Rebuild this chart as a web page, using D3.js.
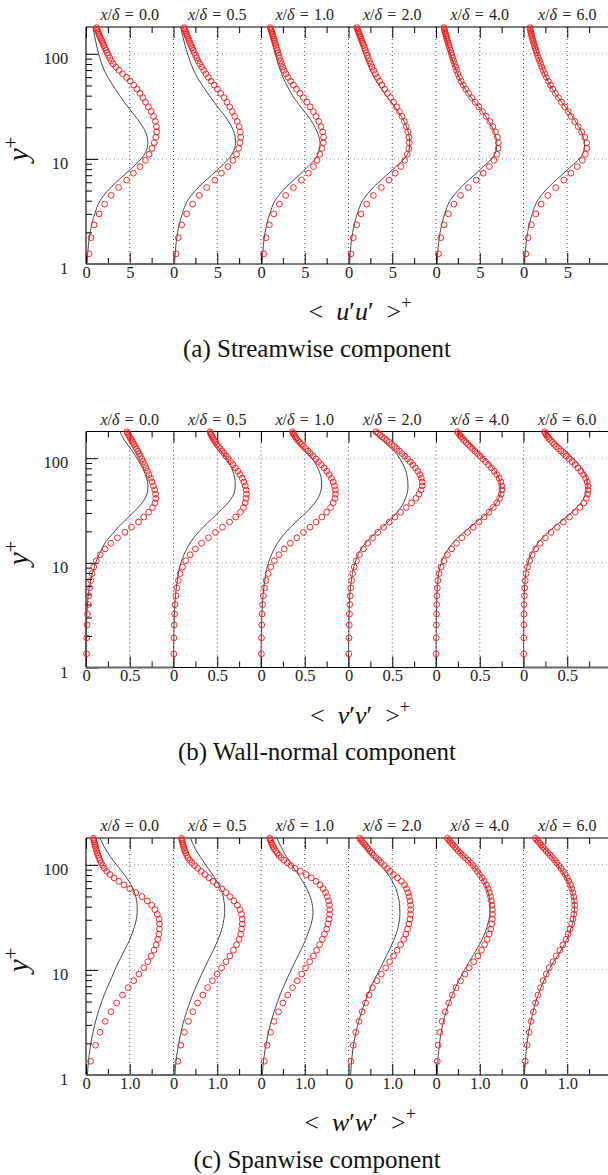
<!DOCTYPE html>
<html><head><meta charset="utf-8">
<script src="https://cdn.jsdelivr.net/npm/d3@7"></script>
<style>body{margin:0;background:#fff}svg{display:block}</style>
</head><body>
<script>
// Streamwise stations x/delta
const stations = ["0.0", "0.5", "1.0", "2.0", "4.0", "6.0"];

// Wall-normal positions (y+) of the LES samples
const yPlusU = [1.25,1.78,2.36,3.00,3.71,4.49,5.34,6.28,7.31,8.45,9.70,11.07,12.58,14.25,16.08,18.09,20.30,22.72,25.36,28.22,31.32,34.66,38.24,42.06,46.12,50.41,54.92,59.64,64.55,69.63,74.86,80.22,85.69,91.25,96.88,102.6,108.3,114.0,119.8,125.5,131.3,137.0,142.8,148.5,154.3,160.0,165.8,171.5,177.3];
const yPlusVW = [1.35,1.92,2.55,3.24,4.0,4.85,5.77,6.78,7.9,9.13,10.48,11.96,13.59,15.39,17.37,19.54,21.92,24.54,27.39,30.48,33.83,37.43,41.3,45.42,49.81,54.44,59.31,64.41,69.71,75.2,80.85,86.64,92.55,98.55,104.6,110.8,117.0,123.2,129.4,135.6,141.8,148.0,154.2,160.4,166.6,172.8,179.0];
// Wall-normal positions (y+) of the reference profiles
const yPlusRef = [1,1.5,2,3,4,5,6,7,8.5,10,12,14,16,19,22,26,30,35,40,46,53,60,70,80,95,110,130,150,180];

// <u'u'>+ : LES samples, one row per station
const uuLes = [
  [0.36,0.57,0.92,1.50,2.12,2.88,3.72,4.64,5.42,6.18,6.80,7.22,7.55,7.80,7.97,8.07,8.05,7.92,7.72,7.45,7.12,6.80,6.50,6.17,5.82,5.45,5.05,4.62,4.18,3.76,3.40,3.10,2.90,2.72,2.55,2.40,2.27,2.15,2.04,1.93,1.83,1.73,1.64,1.55,1.47,1.40,1.33,1.26,1.20],
  [0.30,0.55,0.93,1.50,2.19,2.95,3.79,4.72,5.48,6.22,6.80,7.20,7.45,7.60,7.68,7.64,7.50,7.28,7.00,6.72,6.42,6.10,5.78,5.40,5.02,4.65,4.30,4.00,3.70,3.45,3.22,3.00,2.82,2.66,2.52,2.38,2.25,2.13,2.02,1.92,1.82,1.73,1.64,1.56,1.48,1.41,1.34,1.27,1.20],
  [0.30,0.57,0.95,1.45,2.10,2.82,3.70,4.62,5.42,6.00,6.40,6.72,6.95,7.12,7.15,7.05,6.85,6.60,6.30,5.98,5.62,5.25,4.85,4.45,4.05,3.70,3.38,3.10,2.86,2.66,2.50,2.36,2.24,2.13,2.03,1.94,1.85,1.77,1.69,1.62,1.55,1.48,1.42,1.36,1.30,1.24,1.18,1.12,1.06],
  [0.29,0.55,0.93,1.43,2.08,2.84,3.75,4.62,5.35,5.98,6.42,6.72,6.90,6.95,6.90,6.78,6.60,6.38,6.12,5.82,5.50,5.15,4.80,4.45,4.12,3.82,3.55,3.30,3.08,2.88,2.70,2.54,2.40,2.27,2.15,2.04,1.93,1.83,1.73,1.64,1.55,1.47,1.39,1.31,1.23,1.16,1.09,1.02,0.95],
  [0.29,0.55,0.92,1.42,2.05,2.80,3.70,4.60,5.40,6.10,6.62,6.95,7.10,7.12,7.02,6.80,6.50,6.15,5.75,5.32,4.90,4.48,4.08,3.72,3.40,3.12,2.88,2.67,2.50,2.36,2.24,2.12,2.01,1.91,1.81,1.72,1.63,1.55,1.47,1.40,1.33,1.27,1.21,1.15,1.09,1.04,0.99,0.95,0.91],
  [0.28,0.53,0.90,1.40,2.02,2.78,3.68,4.60,5.42,6.15,6.72,7.08,7.25,7.22,7.00,6.65,6.25,5.85,5.45,5.10,4.72,4.35,4.00,3.65,3.35,3.08,2.84,2.62,2.43,2.26,2.10,1.96,1.83,1.71,1.60,1.50,1.41,1.33,1.25,1.18,1.11,1.05,0.99,0.94,0.89,0.85,0.81,0.77,0.74]
];
// <u'u'>+ : reference profiles
const uuRef = [
  [0.12,0.27,0.47,1.0,1.6,2.5,3.45,4.35,5.45,6.3,6.9,7.06,7.0,6.68,6.2,5.55,4.95,4.35,3.85,3.35,2.88,2.48,2.08,1.8,1.52,1.32,1.12,0.96,0.8],
  [0.12,0.27,0.47,1.0,1.6,2.5,3.45,4.35,5.45,6.3,6.9,7.08,7.05,6.8,6.4,5.8,5.2,4.6,4.1,3.6,3.1,2.7,2.3,2.0,1.7,1.45,1.22,1.03,0.82],
  [0.12,0.27,0.47,1.0,1.6,2.5,3.45,4.35,5.4,6.2,6.65,6.75,6.65,6.3,5.9,5.3,4.7,4.1,3.6,3.2,2.8,2.5,2.2,1.95,1.7,1.5,1.28,1.08,0.85],
  [0.12,0.27,0.47,1.0,1.6,2.5,3.45,4.35,5.45,6.35,6.9,7.0,6.95,6.75,6.45,5.95,5.45,4.85,4.3,3.8,3.3,2.9,2.5,2.2,1.85,1.6,1.35,1.12,0.85],
  [0.12,0.27,0.47,1.0,1.6,2.5,3.45,4.35,5.45,6.35,6.88,6.95,6.85,6.55,6.15,5.6,5.05,4.4,3.85,3.35,2.95,2.62,2.3,2.05,1.74,1.5,1.26,1.06,0.84],
  [0.12,0.27,0.47,1.0,1.6,2.5,3.45,4.35,5.45,6.35,6.9,6.98,6.85,6.5,6.05,5.5,4.95,4.35,3.8,3.32,2.88,2.56,2.22,1.96,1.65,1.42,1.2,1.0,0.76]
];

// <v'v'>+ : LES samples
const vvLes = [
  [0.006,0.008,0.012,0.017,0.024,0.032,0.042,0.055,0.07,0.088,0.118,0.162,0.218,0.285,0.36,0.445,0.52,0.6,0.66,0.715,0.76,0.788,0.798,0.795,0.785,0.77,0.755,0.738,0.72,0.703,0.686,0.67,0.654,0.638,0.622,0.607,0.592,0.577,0.563,0.549,0.535,0.522,0.509,0.497,0.486,0.476,0.467],
  [0.004,0.005,0.008,0.012,0.018,0.027,0.038,0.055,0.076,0.102,0.14,0.19,0.25,0.32,0.4,0.48,0.56,0.64,0.71,0.765,0.8,0.82,0.83,0.834,0.83,0.82,0.805,0.785,0.76,0.735,0.708,0.68,0.653,0.627,0.602,0.578,0.556,0.535,0.515,0.497,0.481,0.466,0.453,0.441,0.431,0.423,0.416],
  [0.004,0.005,0.008,0.012,0.018,0.027,0.04,0.058,0.082,0.112,0.152,0.205,0.265,0.335,0.41,0.485,0.56,0.63,0.695,0.75,0.795,0.825,0.845,0.852,0.85,0.84,0.825,0.805,0.78,0.752,0.722,0.69,0.658,0.627,0.596,0.566,0.537,0.51,0.485,0.462,0.441,0.422,0.405,0.39,0.378,0.368,0.36],
  [0.004,0.006,0.008,0.011,0.015,0.019,0.026,0.036,0.048,0.065,0.09,0.125,0.17,0.22,0.275,0.335,0.4,0.465,0.53,0.595,0.66,0.72,0.77,0.805,0.83,0.842,0.842,0.832,0.815,0.792,0.765,0.735,0.705,0.674,0.643,0.612,0.582,0.552,0.523,0.494,0.466,0.438,0.411,0.385,0.36,0.336,0.313],
  [0.002,0.003,0.004,0.006,0.008,0.011,0.015,0.022,0.036,0.058,0.09,0.13,0.18,0.235,0.295,0.36,0.425,0.49,0.55,0.605,0.655,0.695,0.727,0.745,0.752,0.752,0.742,0.722,0.695,0.665,0.633,0.6,0.567,0.535,0.504,0.474,0.445,0.418,0.392,0.368,0.345,0.324,0.305,0.287,0.271,0.257,0.244],
  [0.002,0.003,0.004,0.005,0.007,0.01,0.014,0.02,0.03,0.046,0.07,0.1,0.14,0.19,0.25,0.315,0.385,0.455,0.525,0.59,0.645,0.69,0.718,0.732,0.738,0.737,0.728,0.71,0.685,0.655,0.622,0.588,0.554,0.52,0.488,0.457,0.428,0.401,0.375,0.351,0.329,0.309,0.29,0.274,0.26,0.25,0.242]
];
// <v'v'>+ : reference profiles
const vvRef = [
  [0,0.002,0.004,0.008,0.016,0.026,0.04,0.056,0.085,0.11,0.15,0.19,0.228,0.305,0.37,0.46,0.535,0.612,0.665,0.698,0.708,0.702,0.678,0.648,0.598,0.55,0.49,0.435,0.39],
  [0,0.002,0.004,0.009,0.016,0.024,0.034,0.046,0.062,0.085,0.12,0.16,0.2,0.27,0.34,0.43,0.51,0.59,0.65,0.69,0.705,0.705,0.69,0.665,0.62,0.57,0.5,0.445,0.39],
  [0,0.002,0.004,0.009,0.016,0.024,0.034,0.046,0.062,0.085,0.12,0.16,0.2,0.27,0.34,0.43,0.51,0.585,0.64,0.675,0.692,0.692,0.678,0.65,0.6,0.54,0.46,0.4,0.35],
  [0,0.001,0.003,0.006,0.01,0.015,0.024,0.035,0.053,0.075,0.11,0.155,0.21,0.3,0.39,0.48,0.55,0.61,0.645,0.67,0.68,0.678,0.665,0.645,0.6,0.55,0.46,0.38,0.28],
  [0,0.001,0.002,0.004,0.007,0.011,0.016,0.023,0.038,0.06,0.1,0.15,0.205,0.3,0.39,0.5,0.59,0.665,0.712,0.735,0.74,0.73,0.7,0.655,0.58,0.505,0.415,0.34,0.24],
  [0,0.001,0.002,0.003,0.006,0.009,0.013,0.019,0.032,0.052,0.085,0.13,0.18,0.265,0.35,0.455,0.545,0.625,0.68,0.715,0.73,0.728,0.705,0.665,0.595,0.52,0.425,0.35,0.25]
];

// <w'w'>+ : LES samples
const wwLes = [
  [0.105,0.22,0.32,0.44,0.57,0.7,0.835,0.965,1.09,1.21,1.32,1.41,1.49,1.555,1.605,1.64,1.665,1.68,1.68,1.67,1.63,1.575,1.5,1.4,1.28,1.14,1.0,0.87,0.75,0.64,0.55,0.475,0.42,0.38,0.345,0.318,0.295,0.275,0.258,0.243,0.23,0.218,0.207,0.196,0.186,0.176,0.167],
  [0.1,0.17,0.25,0.34,0.44,0.55,0.67,0.78,0.89,1.0,1.1,1.2,1.29,1.37,1.44,1.5,1.535,1.555,1.57,1.57,1.555,1.52,1.46,1.38,1.29,1.2,1.1,1.0,0.9,0.81,0.72,0.63,0.55,0.48,0.42,0.37,0.33,0.3,0.28,0.26,0.245,0.232,0.22,0.21,0.2,0.192,0.185],
  [0.076,0.14,0.22,0.3,0.4,0.5,0.61,0.72,0.83,0.93,1.02,1.11,1.2,1.27,1.34,1.4,1.45,1.5,1.53,1.555,1.568,1.572,1.565,1.545,1.515,1.475,1.42,1.35,1.26,1.15,1.03,0.9,0.78,0.68,0.6,0.52,0.46,0.41,0.37,0.335,0.305,0.28,0.26,0.24,0.225,0.212,0.2],
  [0.057,0.11,0.165,0.24,0.31,0.39,0.47,0.55,0.65,0.75,0.85,0.94,1.03,1.11,1.19,1.26,1.31,1.35,1.38,1.405,1.418,1.422,1.418,1.405,1.385,1.36,1.33,1.28,1.21,1.12,1.03,0.95,0.89,0.82,0.75,0.69,0.63,0.57,0.53,0.49,0.45,0.415,0.38,0.345,0.31,0.28,0.255],
  [0.03,0.05,0.09,0.14,0.21,0.29,0.37,0.46,0.56,0.66,0.76,0.86,0.96,1.04,1.11,1.17,1.215,1.25,1.275,1.288,1.293,1.29,1.28,1.265,1.245,1.22,1.19,1.15,1.1,1.05,1.0,0.95,0.9,0.85,0.79,0.73,0.67,0.61,0.56,0.51,0.47,0.43,0.39,0.355,0.32,0.29,0.26],
  [0.04,0.085,0.13,0.175,0.225,0.275,0.33,0.39,0.45,0.52,0.59,0.67,0.75,0.83,0.9,0.97,1.02,1.065,1.1,1.13,1.15,1.165,1.17,1.165,1.15,1.13,1.105,1.075,1.04,1.0,0.955,0.91,0.86,0.81,0.76,0.71,0.66,0.61,0.565,0.52,0.48,0.44,0.405,0.37,0.335,0.3,0.27]
];
// <w'w'>+ : reference profiles
const wwRef = [
  [0.03,0.07,0.11,0.2,0.28,0.36,0.43,0.5,0.59,0.66,0.75,0.83,0.9,0.99,1.05,1.11,1.15,1.17,1.17,1.155,1.12,1.07,0.98,0.88,0.74,0.62,0.5,0.41,0.32],
  [0.03,0.07,0.12,0.21,0.3,0.38,0.45,0.52,0.61,0.69,0.78,0.86,0.93,1.01,1.07,1.12,1.15,1.17,1.17,1.15,1.12,1.07,0.99,0.9,0.77,0.67,0.55,0.47,0.39],
  [0.03,0.07,0.12,0.21,0.3,0.38,0.45,0.52,0.61,0.69,0.78,0.86,0.93,1.01,1.07,1.13,1.17,1.19,1.18,1.15,1.1,1.04,0.95,0.86,0.74,0.64,0.53,0.45,0.36],
  [0.05,0.08,0.12,0.21,0.3,0.38,0.45,0.52,0.62,0.71,0.8,0.88,0.95,1.03,1.09,1.14,1.165,1.175,1.17,1.155,1.12,1.08,1.0,0.91,0.77,0.64,0.49,0.37,0.22],
  [0.03,0.05,0.08,0.15,0.23,0.31,0.39,0.46,0.56,0.65,0.76,0.86,0.94,1.04,1.11,1.17,1.21,1.235,1.24,1.23,1.2,1.16,1.09,1.02,0.88,0.74,0.57,0.43,0.26],
  [0.02,0.05,0.08,0.15,0.22,0.28,0.35,0.41,0.5,0.58,0.69,0.8,0.88,0.98,1.04,1.1,1.14,1.16,1.165,1.15,1.12,1.08,1.01,0.94,0.82,0.71,0.57,0.44,0.27]
];

// Axis tick values
const yMajorTicks = [1, 10, 100];
const yMinorTicks = [2, 3, 4, 5, 6, 7, 8, 9, 20, 30, 40, 50, 60, 70, 80, 90];
const yGridLines = [10, 100];

const W = 608, H = 1175;
const SERIF = '"Liberation Serif"';
const x0 = 86, subW = 87.5, nSt = stations.length;

const panels = [
  { les: uuLes, ref: uuRef, yLes: yPlusU,  span: 10, midLabel: "5",   comp: "u", caption: "(a) Streamwise component",  yTop: 27,    yBot: 264 },
  { les: vvLes, ref: vvRef, yLes: yPlusVW, span: 1,  midLabel: "0.5", comp: "v", caption: "(b) Wall-normal component", yTop: 431.5, yBot: 667.5 },
  { les: wwLes, ref: wwRef, yLes: yPlusVW, span: 2,  midLabel: "1.0", comp: "w", caption: "(c) Spanwise component",    yTop: 838,   yBot: 1075 }
];

const svg = d3.select("body").append("svg")
  .attr("width", W).attr("height", H)
  .attr("font-family", SERIF);

function cleanAxis(sel) {
  sel.select(".domain").remove();
  sel.attr("font-family", SERIF).attr("font-size", null);
  sel.selectAll(".tick line").attr("stroke", "#000").attr("stroke-width", 1);
}

function addText(parent, x, y, size, anchor) {
  return parent.append("text")
    .attr("x", x).attr("y", y)
    .attr("font-family", SERIF).attr("font-size", size)
    .attr("text-anchor", anchor).attr("fill", "#111");
}

panels.forEach(p => {
  const span = p.span;
  const x = d3.scaleLinear().domain([0, span * nSt]).range([x0, x0 + subW * nSt]);
  const y = d3.scaleLog().domain([1, 180]).range([p.yBot, p.yTop]);
  const g = svg.append("g");
  const xEnd = x.range()[1];

  // dotted grid
  g.append("g").selectAll("line").data(yGridLines).join("line")
    .attr("x1", x0).attr("x2", xEnd)
    .attr("y1", d => y(d)).attr("y2", d => y(d))
    .attr("stroke", "#9a9a9a").attr("stroke-width", 1).attr("stroke-dasharray", "1,3");
  const vGrid = d3.range(1, 2 * nSt).map(i => i * span / 2);
  g.append("g").selectAll("line").data(vGrid).join("line")
    .attr("x1", d => x(d)).attr("x2", d => x(d))
    .attr("y1", p.yBot).attr("y2", p.yTop)
    .attr("stroke", "#444").attr("stroke-width", 1).attr("stroke-dasharray", "1,3");

  // x ticks (bottom, pointing in, with labels; top, pointing in)
  const majorX = d3.range(0, 2 * nSt + 1).map(i => i * span / 2);
  const minorX = d3.range(0, 2 * nSt).map(i => i * span / 2 + span / 4);
  const labelFmt = v => (Math.round(v / span * 2) % 2 === 0) ? "0" : p.midLabel;

  const bMaj = g.append("g").attr("transform", `translate(0,${p.yBot})`)
    .call(d3.axisBottom(x).tickValues(majorX).tickSize(-11).tickPadding(2).tickFormat(labelFmt));
  cleanAxis(bMaj);
  bMaj.selectAll(".tick text").attr("fill", "#222")
    .attr("font-family", SERIF).attr("font-size", 16.5)
    .filter(d => d >= span * nSt).remove();
  const bMin = g.append("g").attr("transform", `translate(0,${p.yBot})`)
    .call(d3.axisBottom(x).tickValues(minorX).tickSize(-6).tickFormat(""));
  cleanAxis(bMin);
  const tMaj = g.append("g").attr("transform", `translate(0,${p.yTop})`)
    .call(d3.axisTop(x).tickValues(majorX).tickSize(-11).tickFormat(""));
  cleanAxis(tMaj);
  const tMin = g.append("g").attr("transform", `translate(0,${p.yTop})`)
    .call(d3.axisTop(x).tickValues(minorX).tickSize(-6).tickFormat(""));
  cleanAxis(tMin);

  // y ticks (log), pointing in
  const lMaj = g.append("g").attr("transform", `translate(${x0},0)`)
    .call(d3.axisLeft(y).tickValues(yMajorTicks).tickSize(-12).tickPadding(17.7).tickFormat(d3.format("d")));
  cleanAxis(lMaj);
  lMaj.selectAll(".tick text").attr("fill", "#222").attr("dy", "0.58em")
    .attr("font-family", SERIF).attr("font-size", 16.5);
  const lMin = g.append("g").attr("transform", `translate(${x0},0)`)
    .call(d3.axisLeft(y).tickValues(yMinorTicks).tickSize(-6).tickFormat(""));
  cleanAxis(lMin);

  // frame
  g.append("line").attr("x1", x0).attr("x2", x0).attr("y1", p.yTop).attr("y2", p.yBot)
    .attr("stroke", "#000").attr("stroke-width", 1.1);
  g.append("line").attr("x1", x0).attr("x2", xEnd).attr("y1", p.yTop).attr("y2", p.yTop)
    .attr("stroke", "#000").attr("stroke-width", 1.1);
  g.append("line").attr("x1", x0).attr("x2", xEnd).attr("y1", p.yBot).attr("y2", p.yBot)
    .attr("stroke", "#000").attr("stroke-width", 1.1);
  [[0, span], [span * (nSt - 1), span * nSt]].forEach(([a, b]) => {
    g.append("line").attr("x1", x(a)).attr("x2", x(b)).attr("y1", p.yBot).attr("y2", p.yBot)
      .attr("stroke", "#666").attr("stroke-width", 2.2);
  });

  // profiles
  const line = d3.line().curve(d3.curveMonotoneY);
  stations.forEach((st, k) => {
    const pts = p.ref[k].map((v, i) => [x(k * span + v), y(yPlusRef[i])]).reverse();
    g.append("path").attr("d", line(pts))
      .attr("fill", "none").attr("stroke", "#333").attr("stroke-width", 0.9);

    g.append("g").selectAll("circle")
      .data(p.les[k].map((v, i) => ({ v, yp: p.yLes[i] })))
      .join("circle")
      .attr("cx", d => x(k * span + d.v)).attr("cy", d => y(d.yp))
      .attr("r", 2.9).attr("fill", "none")
      .attr("stroke", "#ff1a1a").attr("stroke-width", 0.95);

    // station title
    const t = addText(g, x(k * span + span / 2), p.yTop - 7, 16, "middle").attr("fill", "#222");
    t.append("tspan").attr("font-style", "italic").text("x");
    t.append("tspan").text("/");
    t.append("tspan").attr("font-style", "italic").text("δ");
    t.append("tspan").text("\u2004=\u2004" + st);
  });

  // y-axis title
  const yl = addText(g, 0, 0, 29, "middle")
    .attr("transform", `translate(28,${(p.yTop + p.yBot) / 2 + 3.5}) rotate(-90)`);
  yl.append("tspan").attr("font-style", "italic").text("y");
  yl.append("tspan").attr("dy", -10).attr("font-size", 21).text("+");

  // x-axis title
  const xl = addText(g, 360, p.yBot + 56, 26, "middle");
  xl.append("tspan").text("<\u2002");
  xl.append("tspan").attr("font-style", "italic").text(p.comp);
  xl.append("tspan").text("\u2032");
  xl.append("tspan").attr("font-style", "italic").text(p.comp);
  xl.append("tspan").text("\u2032\u2002>");
  xl.append("tspan").attr("dy", -11).attr("font-size", 18).text("+");

  // caption
  addText(g, 317, p.yBot + 92.5, 25, "middle").text(p.caption);
});
</script>
</body></html>
